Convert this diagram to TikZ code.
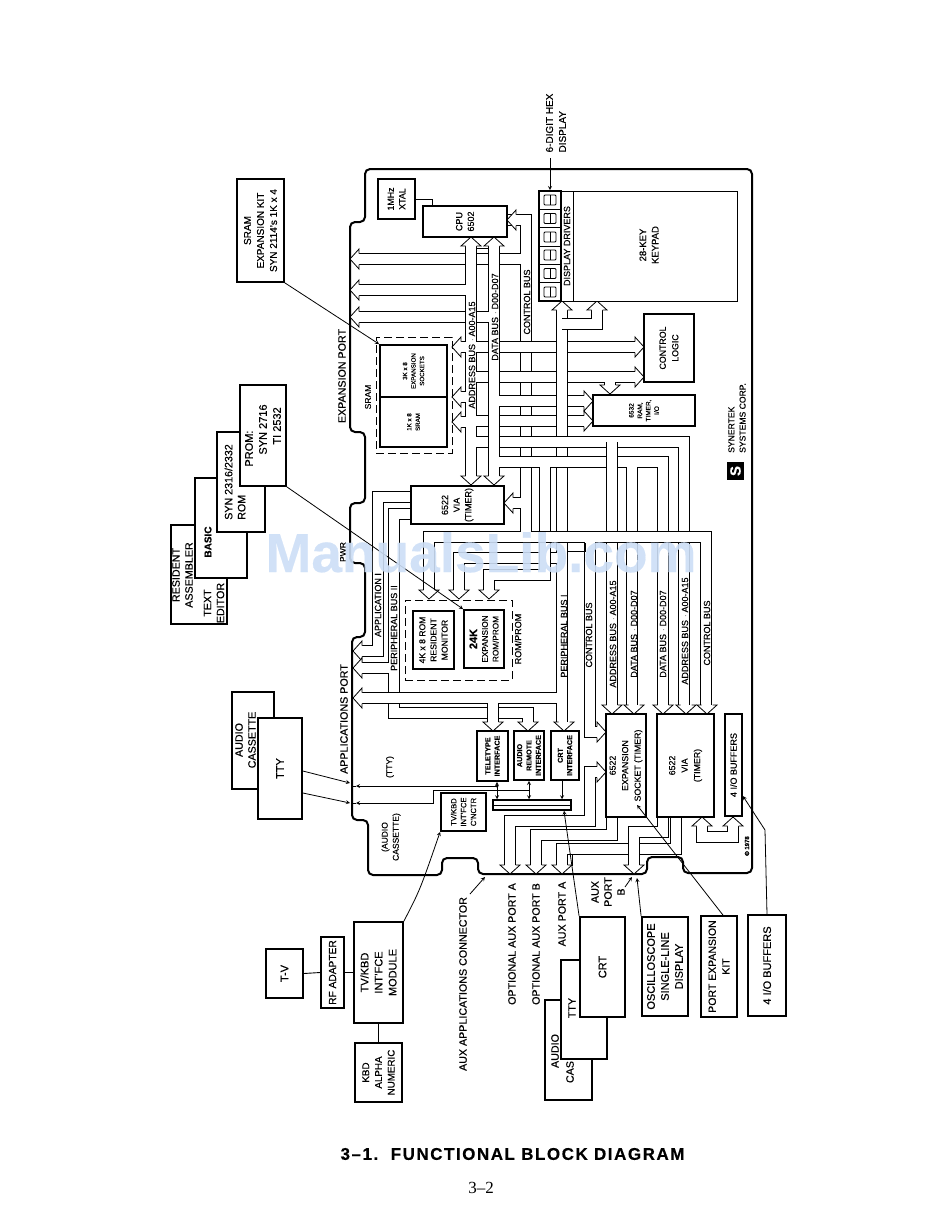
\documentclass[tikz,border=0pt]{standalone}
\usepackage{fontspec}
\setmainfont{Liberation Sans}[FakeBold=0.3]
\newfontfamily\pagefont{Liberation Serif}
\newcommand{\fs}[1]{\fontsize{#1}{13}\selectfont\baselineskip=1.3\dimexpr#1pt\relax}
\tikzset{
    blk/.style={draw,line width=1.8pt,fill=white,rotate=90,align=center,inner sep=0pt,font=\fontsize{11}{14}\selectfont},
    blkin/.style={blk,font=\fontsize{8.8}{12.5}\selectfont},
    blksm/.style={blk,font=\fontsize{6.2}{8.5}\selectfont},
    zone/.style={draw,dashed,dash pattern=on 8pt off 4pt,line width=.9pt,inner sep=0pt},
    lbl/.style={rotate=90,align=center,inner sep=0pt,font=\fontsize{10.7}{13}\selectfont},
    buslbl/.style={rotate=90,inner sep=0pt,font=\fontsize{9}{10}\selectfont},
    bus/.style={draw=white,line width=10pt,preaction={draw=black,line width=11.6pt}},
    lead/.style={line width=.8pt,-stealth},
    pics/hd/.style={code={
        \fill[white] (0,0) -- (-9,10) -- (-9,-10) -- cycle;
        \draw[line width=.8pt] (-9,5.5) -- (-9,10) -- (0,0) -- (-9,-10) -- (-9,-5.5);
    }}
}
\begin{document}
\begin{tikzpicture}[x=1pt,y=-1pt]
        \useasboundingbox (0,0) rectangle (950,1213);
        % outline
        \draw[line width=2pt,rounded corners=5pt] (365,222) -- (365,169) -- (752,169) -- (752,873) -- (683,873)
              -- (683,857) -- (647,857) -- (647,874) -- (478,874) -- (478,858) -- (442,858) -- (442,875)
              -- (368,875) -- (368,820) -- (352,820) -- (352,637) -- (365,637) -- (365,563) -- (350,563)
              -- (350,503) -- (365,503) -- (365,432) -- (350,432) -- (350,222) -- cycle;
        % control bus, upper part
        \draw[bus] (500,220) -- (526,220) -- (526,530)
                   (526,259) -- (358,259)
                   (526,503) -- (512,503);
        % application and peripheral buses
        \draw[bus] (495,317) -- (358,317);
        \draw[bus] (411,497) -- (378,497) -- (378,651) -- (361,651);
        \draw[bus] (411,514) -- (394,514) -- (394,713) -- (528,713) -- (528,723)
                   (394,668) -- (361,668);
        \draw[bus] (562,442) -- (562,723)
                   (562,558) -- (459,558) -- (459,591)
                   (562,698) -- (361,698)
                   (493,698) -- (493,723);
        % address bus
        \draw[bus] (471,245) -- (471,477)
                   (471,290) -- (358,290)
                   (471,347) -- (460,347)
                   (471,397) -- (460,397)
                   (471,422) -- (460,422)
                   (471,347) -- (636,347)
                   (471,377) -- (636,377)
                   (610,376) -- (610,386)
                   (471,421) -- (585,421)
                   (471,442) -- (684,442) -- (684,706);
        % data bus
        \draw[bus] (494,245) -- (494,477)
                   (494,317) -- (484,317)
                   (494,401) -- (585,401)
                   (494,462) -- (663,462) -- (663,706)
                   (632,462) -- (632,706)
                   (545,462) -- (545,575) -- (489,575) -- (489,591);
        \draw[bus] (612,442) -- (612,706);
        % display and keypad
        \draw[bus] (562,310) -- (562,436);
        \draw[bus] (562,324) -- (597,324) -- (597,310);
        % control bus, lower part
        \draw[bus] (526,520) -- (526,537)
                   (429,591) -- (429,537) -- (706,537) -- (706,706)
                   (590,537) -- (590,732) -- (598,732);
        \draw[line width=.8pt] (568,551) -- (585,551) -- (585,543)
                               (476,248) -- (488,248);
        % aux ports
        \draw[bus] (510,866) -- (510,821) -- (590,821) -- (590,772) -- (598,772);
        \draw[bus] (536,866) -- (536,835) -- (612,835) -- (612,817);
        \draw[line width=.8pt] (567,853) -- (567,865) -- (572,865) -- (572,853);
        \draw[bus] (562,866) -- (562,849) -- (676,849) -- (676,817);
        \draw[bus] (634,866) -- (634,832) -- (663,832) -- (663,817);
        \draw[bus] (702,826) -- (702,837) -- (733,837) -- (733,826);
        % heads
        \foreach \x/\y in {471/237,494/237,562/301,597/301,702/817,733/817}
            \pic[rotate=90] at (\x,\y) {hd};
        \foreach \x/\y in {507/220,350/259,350/290,350/317,452/347,452/397,452/422,504/503,353/651,353/668,353/698}
            \pic[rotate=180] at (\x,\y) {hd};
        \foreach \x/\y in {644/347,644/377,593/401,593/421,606/732,606/772}
            \pic at (\x,\y) {hd};
        \foreach \x/\y in {471/485,494/485,610/394,429/599,459/599,489/599,493/731,528/731,564/731,612/714,634/714,663/714,686/714,707/714,510/874,536/874,562/874,634/874}
            \pic[rotate=270] at (\x,\y) {hd};
        % on the board
        \node[blk,minimum width=40,minimum height=37,font=\fs{8.8}] (xtal) at (396.5,199) {1MHz\\XTAL};
        \node[blk,minimum width=31,minimum height=84,font=\fs{9}] (cpu) at (465,221.5) {CPU\\6502};
        \draw[line width=.8pt] (xtal.south) -| (432,0 |- cpu.east);
        \node[blk,line width=1pt,minimum width=110,minimum height=164] (keypad) at (655,246) {};
        \node[blk,line width=1pt,minimum width=110,minimum height=12,font=\fs{9}] (drivers) at (567,246) {DISPLAY DRIVERS};
        \node[blk,minimum width=110,minimum height=22] (digits) at (550,246) {};
        \foreach \y in {200,218.5,237,255,273.5,292} {
            \draw[line width=.8pt,rounded corners=1pt] (544,\y-5) rectangle (556,\y+5);
            \draw[line width=.8pt] (550,\y-5) -- (550,\y+5);
            \draw[line width=.6pt] (539,\y+9.2) -- (561,\y+9.2);
        }
        \node[lbl,font=\fs{9.5}] (keytext) at (649,245) {28-KEY\\KEYPAD};
        \node[blkin,minimum width=68,minimum height=50] (ctrl) at (669,348) {CONTROL\\LOGIC};
        \node[blksm,minimum width=31,minimum height=102,font=\fs{6.5}] (riot) at (644,410.5) {6532\\RAM,\\TIMER,\\I/O};
        \node[zone,minimum width=76,minimum height=116] (sramzone) at (414,395) {};
        \node[blksm,minimum width=52,minimum height=67] (sockets) at (413.5,371) {3K x 8\\EXPANSION\\SOCKETS};
        \node[blksm,minimum width=50,minimum height=67] (sram) at (413.5,422) {1K x 8\\SRAM};
        \node[blkin,minimum width=38,minimum height=93,font=\fs{9}] (via) at (457.5,505) {6522\\VIA\\(TIMER)};
        \node[zone,minimum width=107,minimum height=80] (romzone) at (458.5,640) {};
        \node[blk,minimum width=58,minimum height=41,font=\fs{8.6}] (rom) at (433.5,640) {4K x 8 ROM\\RESIDENT\\MONITOR};
        \node[blk,minimum width=58,minimum height=40,font=\fs{8.2}] (rom24) at (484,639) {{\bfseries\fs{11}24K}\\EXPANSION\\ROM/PROM};
        \node[blksm,minimum width=50,minimum height=31,font=\bfseries\fs{7.2}] (tele) at (492.5,756) {TELETYPE\\INTERFACE};
        \node[blksm,minimum width=49,minimum height=30,font=\bfseries\fs{7.2}] (audif) at (529,755.5) {AUDIO\\REMOTE\\INTERFACE};
        \node[blksm,minimum width=49,minimum height=28,font=\bfseries\fs{7.2}] (crtif) at (565,755.5) {CRT\\INTERFACE};
        \node[blkin,minimum width=103,minimum height=40] (socket) at (626,765.5) {6522\\EXPANSION\\SOCKET (TIMER)};
        \node[blkin,minimum width=103,minimum height=57] (viab) at (685.5,765.5) {6522\\VIA\\(TIMER)};
        \node[blkin,minimum width=102,minimum height=17,font=\fs{9}] (buf) at (733.5,765) {4 I/O BUFFERS};
        \node[blksm,minimum width=38,minimum height=45,font=\fs{7.6}] (cnctr) at (463.5,812) {TV/KBD\\INT'FCE\\C'NCTR};
        \node[draw,line width=1.5pt,fill=white,minimum width=78,minimum height=10,inner sep=0pt] (bar) at (532,805) {};
        \draw[line width=.8pt] (bar.west) -- (bar.east);
        % outside the board
        \node[blk,minimum width=103,minimum height=47,font=\fs{10}] (srkit) at (260.5,230.5) {SRAM\\EXPANSION KIT\\SYN 2114's 1K x 4};
        \node[blk,minimum width=99,minimum height=56] (resident) at (199,574.5) {};
        \node[lbl] (restext) at (182.5,575) {RESIDENT\\ASSEMBLER};
        \node[lbl] (edtext) at (214,603) {TEXT\\EDITOR};
        \node[blk,minimum width=100,minimum height=52] (basic) at (221,528) {};
        \node[lbl,font=\bfseries\fs{10}] (bastext) at (208,542) {BASIC};
        \node[blk,minimum width=100,minimum height=48] (synrom) at (241,482) {};
        \node[lbl,align=left] (syntext) at (235,482) {SYN 2316/2332\\ROM};
        \node[blk,minimum width=101,minimum height=46,align=left] (prom) at (263,435.5) {PROM:\\\hspace*{12pt}SYN 2716\\\hspace*{22pt}TI 2532};
        \node[blk,minimum width=97,minimum height=42] (audio) at (253,740.5) {};
        \node[lbl] (audtext) at (245.5,740) {AUDIO\\CASSETTE};
        \node[blk,minimum width=101,minimum height=44] (tty) at (280,768.5) {TTY};
        \node[blk,minimum width=101,minimum height=49] (tvmod) at (378.5,972.5) {TV/KBD\\INT'FCE\\MODULE};
        \node[blk,minimum width=71,minimum height=23,font=\fs{10.2}] (rfad) at (332.5,972.5) {RF ADAPTER};
        \node[blk,minimum width=49,minimum height=37] (tv) at (284.5,973.5) {T-V};
        \node[blk,minimum width=59,minimum height=47,font=\fs{9.8}] (kbd) at (378.5,1072.5) {KBD\\ALPHA\\NUMERIC};
        \draw[line width=.9pt] (tv.south) -- (rfad.north) (rfad.south) -- (tvmod.north) (tvmod.west) -- (kbd.east);
        \node[blk,minimum width=100,minimum height=47] (audb) at (568.5,1050) {};
        \node[lbl] (audbtext) at (555,1051) {AUDIO};
        \node[lbl] (casbtext) at (570,1072) {CAS};
        \node[blk,minimum width=99,minimum height=46] (ttyb) at (584,1009.5) {};
        \node[lbl] (ttybtext) at (572,1008) {TTY};
        \node[blk,minimum width=100,minimum height=45] (crt) at (602.5,967) {CRT};
        \node[blk,minimum width=99,minimum height=46] (scope) at (665,966.5) {OSCILLOSCOPE\\SINGLE-LINE\\DISPLAY};
        \node[blk,minimum width=101,minimum height=36,font=\fs{10.5}] (portkit) at (719,966.5) {PORT EXPANSION\\KIT};
        \node[blk,minimum width=101,minimum height=38] (iokit) at (767,965.5) {4 I/O BUFFERS};
        % leaders
        \coordinate (hexout) at (550,158);
        \coordinate (conn) at (470,894);
        \coordinate (connend) at (485,877);
        \coordinate (bout) at (625,887);
        \coordinate (bend) at (632,877);
        \coordinate (scopeend) at (637,878);
        \coordinate (kitend) at (637,805);
        \coordinate (bufbend) at (765,830);
        \coordinate (edgea) at (350,783);
        \coordinate (edgeb) at (350,803);
        \coordinate (teledot) at (497,786);
        \coordinate (audjoin) at (529,790);
        \draw[lead] (hexout) -- (digits.east);
        \draw[lead] (srkit.south west) -- (sockets.north east);
        \draw[lead] (prom.south west) -- (rom24.north east);
        \draw[lead] (tvmod.south east) .. controls (420,890) .. (cnctr.north west);
        \draw[lead] (iokit.east) -- (bufbend) -- (buf.south |- 0,796);
        \draw[lead] (723,0 |- portkit.east) -- (kitend);
        \draw[lead] (crt.north east) -- (bar.south -| 564,0);
        \draw[lead] (scope.north east) -- (scopeend);
        \draw[lead] (bout) -- (bend);
        \draw[lead] (conn) -- (connend);
        \draw[lead] (tty.south |- 0,771) -- (edgea);
        \draw[lead] (tty.south |- 0,793) -- (edgeb);
        \draw[lead] (teledot) -- (356,786);
        \draw[line width=.8pt] (356,786) -- (352,786);
        \draw[lead] (audjoin) -- (433,790) -- (433,803) -- (356,803);
        \draw[line width=.8pt] (356,803) -- (352,803);
        \draw[lead,stealth-stealth] (tele.west -| 497,0) -- (bar.north -| 497,0);
        \draw[lead,stealth-stealth] (audif.west -| 529,0) -- (bar.north -| 529,0);
        \draw[lead] (crtif.west -| 562,0) -- (bar.north -| 562,0);
        \fill (teledot) circle (1.5);
        % bus names
        \foreach \n/\x/\y/\t in {actl/527/302/CONTROL BUS,adat/495/317/DATA BUS $\cdot$ D00-D07,aadr/472/355/ADDRESS BUS $\cdot$ A00-A15,
                                 appb/378/605/APPLICATION I/O BUS,perb/394/628/PERIPHERAL BUS II,pera/564/636/PERIPHERAL BUS I,
                                 bctl/589/635/CONTROL BUS,badr/613/634/ADDRESS BUS $\cdot$ A00-A15,bdat/634/634/DATA BUS $\cdot$ D00-D07,
                                 cdat/663/634/DATA BUS $\cdot$ D00-D07,cadr/685/631/ADDRESS BUS $\cdot$ A00-A15,cctl/707/633/CONTROL BUS}
            \node[buslbl] (lbl\n) at (\x,\y) {\t};
        % labels
        \node[lbl,align=left,font=\fs{10}] (hexlbl) at (556,123) {6-DIGIT HEX\\DISPLAY};
        \node[lbl,font=\fs{8.5}] (sramlbl) at (368,397) {SRAM};
        \node[lbl,font=\fs{9}] (romlbl) at (518,639) {ROM/PROM};
        \node[lbl] (expport) at (342,376) {EXPANSION PORT};
        \node[lbl,font=\fs{8.5}] (pwrlbl) at (343,552) {PWR};
        \node[lbl] (appport) at (344,719) {APPLICATIONS PORT};
        \node[lbl,font=\fs{8.5}] (ttylbl) at (390,767) {(TTY)};
        \node[lbl,font=\fs{8.5}] (caslbl) at (391,837) {(AUDIO\\CASSETTE)};
        \node[lbl] (connlbl) at (463,984) {AUX APPLICATIONS CONNECTOR};
        \node[lbl] (optalbl) at (512,944) {OPTIONAL AUX PORT A};
        \node[lbl] (optblbl) at (536,944) {OPTIONAL AUX PORT B};
        \node[lbl] (auxalbl) at (562,914) {AUX PORT A};
        \node[lbl] (auxblbl) at (608,892) {AUX\\PORT\\B};
        \node[lbl,align=left,font=\fs{8.6}] (synlbl) at (737,418) {SYNERTEK\\SYSTEMS CORP.};
        \node[fill=black,text=white,rotate=90,minimum width=18,minimum height=17,inner sep=0pt,font=\bfseries\fs{15}] (logo) at (735.5,471) {S};
        \node[lbl,font=\bfseries\fs{6}] (copylbl) at (747,846) {\textcopyright\ 1978};
        % page
        \node[inner sep=0pt,font=\bfseries\fs{17}\addfontfeature{LetterSpace=9}] (title) at (512.5,1154) {3–1.\ \ FUNCTIONAL BLOCK DIAGRAM};
        \node[inner sep=0pt,font=\pagefont\fs{17}] (pageno) at (481,1188) {3–2};
        \node[inner sep=0pt,anchor=base,opacity=.9,text={rgb,255:red,204;green,222;blue,246},font=\bfseries\fontsize{55}{60}\selectfont] (mark) at (481,572) {ManualsLib.com};
    \end{tikzpicture}
\end{document}
